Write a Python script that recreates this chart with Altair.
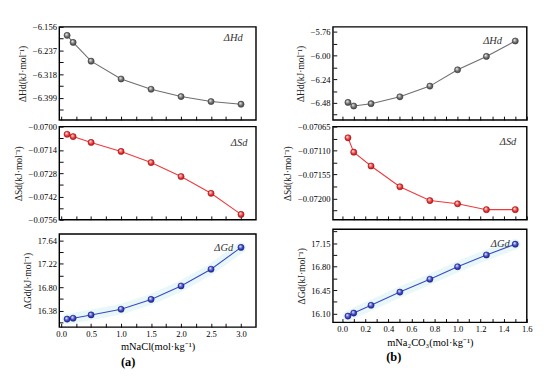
import altair as alt
import pandas as pd

# ---------------- data ----------------
xa = [0.1, 0.2, 0.5, 1.0, 1.5, 2.0, 2.5, 3.0]
Ha = [-6.185, -6.209, -6.273, -6.334, -6.369, -6.394, -6.411, -6.420]
Sa = [-0.07046, -0.07060, -0.07095, -0.07149, -0.07216, -0.07300, -0.07401, -0.07528]
Ga = [16.229, 16.245, 16.304, 16.406, 16.583, 16.824, 17.125, 17.516]

xb = [0.05, 0.1, 0.25, 0.5, 0.76, 1.0, 1.25, 1.5]
Hb = [-6.476, -6.513, -6.489, -6.419, -6.310, -6.144, -6.008, -5.851]
Sb = [-0.07086, -0.07113, -0.07139, -0.07178, -0.07204, -0.07210, -0.07221, -0.07221]
Gb = [16.064, 16.109, 16.225, 16.422, 16.614, 16.801, 16.976, 17.137]

# axis tick values (major ticks carry labels, minor ticks do not)
xa_major = [0.0, 0.5, 1.0, 1.5, 2.0, 2.5, 3.0]
xa_minor = [0.25, 0.75, 1.25, 1.75, 2.25, 2.75]
xb_major = [0.0, 0.2, 0.4, 0.6, 0.8, 1.0, 1.2, 1.4, 1.6]
xb_minor = [0.1, 0.3, 0.5, 0.7, 0.9, 1.1, 1.3, 1.5]

Ha_major = [-6.156, -6.237, -6.318, -6.399]
Ha_minor = [-6.1965, -6.2775, -6.3585, -6.4395]
Sa_major = [-0.0700, -0.0714, -0.0728, -0.0742, -0.0756]
Sa_minor = [-0.0707, -0.0721, -0.0735, -0.0749]
Ga_major = [16.38, 16.80, 17.22, 17.64]
Ga_minor = [16.17, 16.59, 17.01, 17.43]

Hb_major = [-5.76, -6.00, -6.24, -6.48]
Hb_minor = [-5.88, -6.12, -6.36, -6.60]
Sb_major = [-0.07065, -0.07110, -0.07155, -0.07200]
Sb_minor = [-0.070875, -0.071325, -0.071775, -0.072225]
Gb_major = [16.10, 16.45, 16.80, 17.15]
Gb_minor = [16.275, 16.625, 16.975, 17.325]

FONT = "Liberation Serif"
W_A, W_B, H = 207, 204, 98
TICK = 4


def sphere(color, dark):
    return alt.Gradient(
        gradient="radial",
        stops=[alt.GradientStop(color="#ffffff", offset=0),
               alt.GradientStop(color=color, offset=0.55),
               alt.GradientStop(color=dark, offset=1)],
        x1=0.35, y1=0.3, r1=0.0, x2=0.5, y2=0.5, r2=0.6)


def within(vals, dom):
    return [v for v in vals if min(dom) <= v <= max(dom)]


def label_expr(majors, fmt):
    arr = "[" + ",".join(repr(float(v)) for v in majors) + "]"
    return f"indexof({arr}, datum.value) >= 0 ? format(datum.value, '{fmt}') : ''"


def panel(xs, ys, xdom, ydom, ymaj, ymin, yfmt, xmaj, xmin, color, dark,
          ytitle, label, lab_dx, lab_dy, width, bottom=False, xtitle="",
          glow=None, tag="", tag_dx=0):
    df = pd.DataFrame({"x": xs, "y": ys})
    xscale = alt.Scale(domain=xdom, nice=False, zero=False)
    yscale = alt.Scale(domain=ydom, nice=False, zero=False)
    xaxis_kw = dict(values=within(xmaj + xmin, xdom), grid=False, domain=False,
                    ticks=True, tickColor="black", tickWidth=1,
                    tickSize={"expr": str(-TICK)},
                    labelExpr=label_expr(xmaj, ".1f"),
                    labelFont=FONT, labelFontSize=9, labelColor="black",
                    labelPadding=TICK + 3, labelOverlap=False, labelFlush=False)
    if bottom:
        xaxis_kw.update(title=xtitle, titleFont=FONT, titleFontSize=11,
                        titleFontWeight="normal", titleColor="black", titlePadding=3)
    else:
        xaxis_kw.update(labels=False, title="")
    xaxis = alt.Axis(**xaxis_kw)
    yaxis = alt.Axis(values=within(ymaj + ymin, ydom), grid=False, domain=False,
                     ticks=True, tickColor="black", tickWidth=1,
                     tickSize={"expr": str(-TICK)},
                     labelExpr=label_expr(ymaj, yfmt),
                     labelFont=FONT, labelFontSize=9, labelColor="black",
                     labelPadding=TICK + 3, labelOverlap=False, labelFlush=False,
                     title=ytitle, titleFont=FONT, titleFontSize=10,
                     titleFontWeight="normal", titleColor="#222", titlePadding=5)
    base = alt.Chart(df)
    X = alt.X("x:Q", scale=xscale, axis=xaxis)
    Y = alt.Y("y:Q", scale=yscale, axis=yaxis)
    layers = []
    if glow:
        layers.append(base.mark_line(color=glow, strokeWidth=11, opacity=0.8,
                                     strokeCap="round").encode(x=X, y=Y))
    layers.append(base.mark_line(color=color, strokeWidth=1.1).encode(x=X, y=Y))
    layers.append(base.mark_point(filled=True, fill=sphere(color, dark), size=42,
                                  opacity=1, stroke=dark, strokeWidth=0.6,
                                  shape="circle").encode(x=X, y=Y))
    layers.append(alt.Chart(pd.DataFrame({"t": [label]})).mark_text(
        font=FONT, fontSize=11, fontStyle="italic", align="right",
        baseline="middle", color="#333").encode(
        text="t:N", x=alt.XValue(width - lab_dx), y=alt.YValue(lab_dy)))
    if tag:
        layers.append(alt.Chart(pd.DataFrame({"t": [tag]})).mark_text(
            font=FONT, fontSize=13, fontWeight="bold", align="center",
            baseline="middle", color="black").encode(
            text="t:N", x=alt.XValue(width / 2 + tag_dx), y=alt.YValue(H + 37)))
    return alt.layer(*layers).properties(width=width, height=H)


a1 = panel(xa, Ha, [-0.03, 3.25], [-6.474, -6.156], Ha_major, Ha_minor, ".3f",
           xa_major, xa_minor, "#6e6e6e", "#3a3a3a", "ΔHd(kJ·mol⁻¹)", "ΔHd", 14, 12, W_A)
a2 = panel(xa, Sa, [-0.03, 3.25], [-0.0756, -0.0700], Sa_major, Sa_minor, ".4f",
           xa_major, xa_minor, "#f0393b", "#a01010", "ΔSd(kJ·mol⁻¹)", "ΔSd", 9, 17, W_A)
a3 = panel(xa, Ga, [-0.03, 3.25], [16.085, 17.757], Ga_major, Ga_minor, ".2f",
           xa_major, xa_minor, "#3f46c8", "#1a1f80", "ΔGd(kJ·mol⁻¹)", "ΔGd", 24, 15, W_A,
           bottom=True, xtitle="mNaCl(mol·kg⁻¹)", glow="#e2f6f8", tag="(a)", tag_dx=-31)

b1 = panel(xb, Hb, [-0.08, 1.6], [-6.655, -5.707], Hb_major, Hb_minor, ".2f",
           xb_major, xb_minor, "#6e6e6e", "#3a3a3a", "ΔHd(kJ·mol⁻¹)", "ΔHd", 26, 15, W_B)
b2 = panel(xb, Sb, [-0.08, 1.6], [-0.07240, -0.07065], Sb_major, Sb_minor, ".5f",
           xb_major, xb_minor, "#f0393b", "#a01010", "ΔSd(kJ·mol⁻¹)", "ΔSd", 11, 16, W_B)
b3 = panel(xb, Gb, [-0.08, 1.6], [15.97, 17.36], Gb_major, Gb_minor, ".2f",
           xb_major, xb_minor, "#3f46c8", "#1a1f80", "ΔGd(kJ·mol⁻¹)", "ΔGd", 18, 16, W_B,
           bottom=True, xtitle="mNa₂CO₃(mol·kg⁻¹)", glow="#e2f6f8", tag="(b)", tag_dx=-38)

colA = alt.vconcat(a1, a2, a3, spacing=0)
colB = alt.vconcat(b1, b2, b3, spacing=0)

chart = (alt.hconcat(colA, colB, spacing=20)
         .properties(background="white")
         .configure_view(stroke="#000000", strokeWidth=1.5)
         .configure_axis(labelOverlap=False, labelFlush=False))

chart.save("out.html", embed_options={"renderer": "svg", "actions": False})
